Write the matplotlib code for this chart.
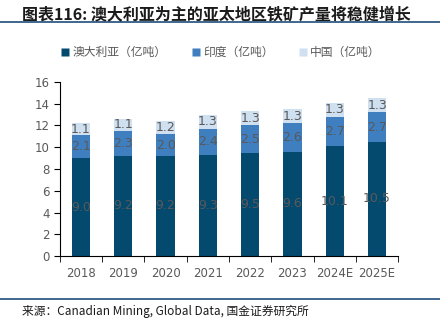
import numpy as np
import matplotlib.pyplot as plt
from matplotlib.lines import Line2D

plt.rcParams['font.family'] = ['Noto Sans CJK SC', 'DejaVu Sans']

# Data
years = ['2018', '2019', '2020', '2021', '2022', '2023', '2024E', '2025E']
australia = [9.0, 9.2, 9.2, 9.3, 9.5, 9.6, 10.1, 10.5]
india = [2.1, 2.3, 2.0, 2.4, 2.5, 2.6, 2.7, 2.7]
china = [1.1, 1.1, 1.2, 1.3, 1.3, 1.3, 1.3, 1.3]
series_names = ['澳大利亚（亿吨）', '印度（亿吨）', '中国（亿吨）']
colors = ['#044a6e', '#3f7fc0', '#cfe0f1']
label_color = '#595959'

fig = plt.figure(figsize=(4.4, 3.3), dpi=100)
ax = fig.add_axes([0.136, 0.224, 0.769, 0.528])

x = np.arange(len(years))
w = 0.43
bottom = np.zeros(len(years))
for vals, col in zip([australia, india, china], colors):
    vals = np.array(vals)
    ax.bar(x, vals, w, bottom=bottom, color=col, edgecolor='none')
    for xi, b, v in zip(x, bottom, vals):
        ax.text(xi, b + v / 2, f'{v:.1f}', ha='center', va='center',
                fontsize=9, color=label_color, family='DejaVu Sans')
    bottom = bottom + vals

ax.set_xlim(-0.5, len(years) - 0.5)
ax.set_ylim(0, 16)
ax.set_yticks(range(0, 17, 2))
ax.set_xticks(x)
ax.set_xticklabels(years)
ax.set_xticks(np.arange(-0.5, len(years), 1), minor=True)
ax.tick_params(axis='x', which='major', length=0, pad=8, labelsize=8.5, labelcolor=label_color)
ax.tick_params(axis='x', which='minor', length=4, direction='out', color='black')
ax.tick_params(axis='y', length=4, direction='out', labelsize=8.5, labelcolor=label_color)
for lab in ax.get_xticklabels() + ax.get_yticklabels():
    lab.set_family('DejaVu Sans')
ax.spines['top'].set_visible(False)
ax.spines['right'].set_visible(False)
ax.spines['left'].set_color('black')
ax.spines['bottom'].set_color('black')

# legend
handles = [Line2D([], [], marker='s', linestyle='none', markersize=6,
                  markerfacecolor=c, markeredgecolor='none') for c in colors]
fig.legend(handles, series_names, loc='center', bbox_to_anchor=(0.5, 0.84),
           ncol=3, frameon=False, fontsize=8.5, labelcolor=label_color,
           handletextpad=0.1, columnspacing=2.0, handlelength=1)

# title and rules
fig.text(0.05, 0.955, '图表116: 澳大利亚为主的亚太地区铁矿产量将稳健增长',
         fontsize=11.5, fontweight='bold', style='italic', color='#1a1a1a',
         va='center', ha='left')
fig.add_artist(Line2D([0, 1], [0.932, 0.932], color='#1f4e79', linewidth=1.2))
fig.add_artist(Line2D([0, 1], [0.094, 0.094], color='#1f4e79', linewidth=1.2))
fig.text(0.05, 0.055, '来源：Canadian Mining, Global Data, 国金证券研究所',
         fontsize=8.5, color='#1a1a1a', va='center', ha='left')

fig.savefig('out.png', dpi=100)
